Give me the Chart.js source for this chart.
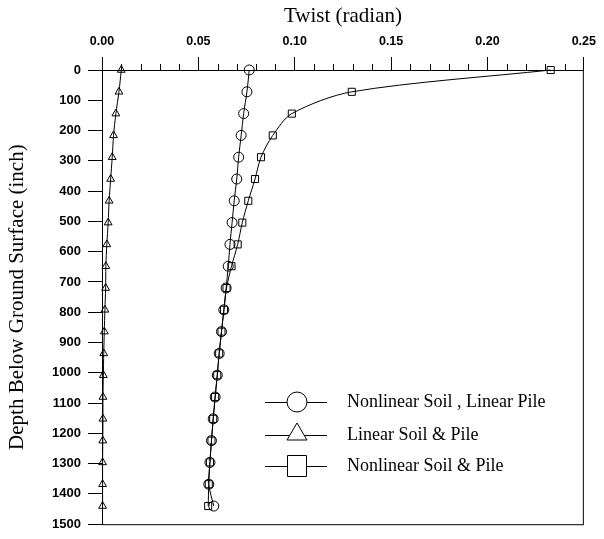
<!DOCTYPE html>
<html>
<head>
<meta charset="utf-8">
<script src="https://cdn.jsdelivr.net/npm/chart.js@4/dist/chart.umd.min.js"></script>
<style>
  html, body { margin: 0; padding: 0; background: #fff; }
  #wrap { width: 604px; height: 539px; position: relative; }
</style>
</head>
<body>
<div id="wrap"><canvas id="twistChart"></canvas></div>
<script>
// depth below ground surface (inch), one reading every 72 in
var depths = [0, 72, 144, 216, 288, 360, 432, 504, 576, 648, 720,
              792, 864, 936, 1008, 1080, 1152, 1224, 1296, 1368, 1440];

// twist (radian) at each depth
var nonlinSoilLinPile = [0.0764, 0.0752, 0.0735, 0.0722, 0.0709, 0.0699, 0.0686,
                         0.0675, 0.0664, 0.0655, 0.0644, 0.0632, 0.0620, 0.0608,
                         0.0598, 0.0587, 0.0577, 0.0568, 0.0560, 0.0554, 0.0580];
var linSoilPile = [0.0100, 0.0088, 0.0072, 0.0060, 0.0053, 0.0045, 0.0037,
                   0.0032, 0.0025, 0.0020, 0.0019, 0.0015, 0.0012, 0.0009,
                   0.0007, 0.0005, 0.0005, 0.0004, 0.0003, 0.0003, 0.0003];
var nonlinSoilPile = [0.2328, 0.1296, 0.0985, 0.0886, 0.0825, 0.0794, 0.0759,
                      0.0728, 0.0704, 0.0672, 0.0646, 0.0633, 0.0620, 0.0608,
                      0.0598, 0.0587, 0.0577, 0.0568, 0.0560, 0.0554, 0.0551];

var seriesNames = ['Nonlinear Soil , Linear Pile', 'Linear Soil & Pile', 'Nonlinear Soil & Pile'];
var twistTicks = [0, 0.05, 0.10, 0.15, 0.20, 0.25];

function toPoints(vals) {
    var pts = [];
    for (var i in vals) {
        pts.push({ x: vals[i], y: depths[i] });
    }
    return pts;
}

function makeSet(label, vals, style, r) {
    return {
        label: label,
        data: toPoints(vals),
        showLine: true,
        borderColor: '#000',
        borderWidth: 1,
        tension: 0.3,
        pointStyle: style,
        pointRadius: r,
        pointBorderColor: '#000',
        pointBorderWidth: 1,
        pointBackgroundColor: 'rgba(0,0,0,0)',
        clip: false
    };
}

var serifFont = '"Liberation Serif", "Times New Roman", serif';
var sansFont = '"Liberation Sans", Arial, sans-serif';

// box around the plot, small ticks every 0.01 along the top, and the legend
var framePlugin = {
    id: 'frame',
    afterDraw: function (chart) {
        var ctx = chart.ctx;
        var a = chart.chartArea;
        var xs = chart.scales.x;
        ctx.save();
        ctx.strokeStyle = '#000';
        ctx.lineWidth = 1;
        ctx.strokeRect(a.left + 0.5, a.top + 0.5, a.right - a.left - 1, a.bottom - a.top);

        ctx.beginPath();
        for (var k = 1; k < 25; k++) {
            if (k % 5 === 0) continue;
            var px = Math.round(xs.getPixelForValue(k / 100)) + 0.5;
            ctx.moveTo(px, a.top);
            ctx.lineTo(px, a.top - 6);
        }
        ctx.stroke();

        // legend
        var rows = [402, 435, 466];
        var sets = chart.data.datasets;
        ctx.font = '18px ' + serifFont;
        ctx.fillStyle = '#000';
        ctx.textBaseline = 'middle';
        for (var i = 0; i < sets.length; i++) {
            var y = rows[i];
            var cx = 297;
            ctx.beginPath();
            ctx.moveTo(265, y + 0.5);
            ctx.lineTo(327, y + 0.5);
            ctx.stroke();
            ctx.beginPath();
            if (sets[i].pointStyle === 'circle') {
                ctx.arc(cx, y, 10, 0, Math.PI * 2);
            } else if (sets[i].pointStyle === 'triangle') {
                ctx.moveTo(cx, y - 12);
                ctx.lineTo(cx - 10, y + 5);
                ctx.lineTo(cx + 10, y + 5);
                ctx.closePath();
            } else {
                ctx.rect(cx - 9.5, y - 10.5, 19, 21);
            }
            ctx.fillStyle = '#fff';
            ctx.fill();
            ctx.stroke();
            ctx.fillStyle = '#000';
            ctx.fillText(sets[i].label, 347, y);
        }
        ctx.restore();
    }
};

var chartdata = {
    datasets: [
        makeSet(seriesNames[0], nonlinSoilLinPile, 'circle', 5),
        makeSet(seriesNames[1], linSoilPile, 'triangle', 4.5),
        makeSet(seriesNames[2], nonlinSoilPile, 'rect', 5)
    ]
};

var twistChart = new Chart(document.getElementById('twistChart'), {
    type: 'scatter',
    data: chartdata,
    plugins: [framePlugin],
    options: {
        responsive: true,
        maintainAspectRatio: false,
        animation: false,
        layout: { padding: { left: 0, top: 0, right: 12, bottom: 10 } },
        plugins: {
            legend: { display: false },
            tooltip: { enabled: false }
        },
        scales: {
            x: {
                type: 'linear',
                position: 'top',
                min: 0,
                max: 0.25,
                afterFit: function (s) { s.height = 70; },
                afterBuildTicks: function (s) {
                    s.ticks = twistTicks.map(function (v) { return { value: v }; });
                },
                ticks: {
                    color: '#000',
                    padding: 8,
                    maxRotation: 0,
                    font: { family: sansFont, size: 12.5, weight: 'bold' },
                    callback: function (v) { return Number(v).toFixed(2); }
                },
                grid: { drawOnChartArea: false, tickLength: 13, color: '#000' },
                border: { color: '#000', width: 1 },
                title: {
                    display: true,
                    text: 'Twist (radian)',
                    color: '#000',
                    font: { family: serifFont, size: 21 },
                    padding: { top: 4, bottom: 0 }
                }
            },
            y: {
                type: 'linear',
                reverse: true,
                min: 0,
                max: 1500,
                afterFit: function (s) { s.width = 102; },
                ticks: {
                    stepSize: 100,
                    color: '#000',
                    padding: 7,
                    font: { family: sansFont, size: 13, weight: 'bold' },
                    callback: function (v) { return String(v); }
                },
                grid: { drawOnChartArea: false, tickLength: 14, color: '#000' },
                border: { color: '#000', width: 1 },
                title: {
                    display: true,
                    text: 'Depth Below Ground Surface (inch)',
                    color: '#000',
                    font: { family: serifFont, size: 21 },
                    padding: { top: 5, bottom: 0 }
                }
            }
        }
    }
});
</script>
</body>
</html>
